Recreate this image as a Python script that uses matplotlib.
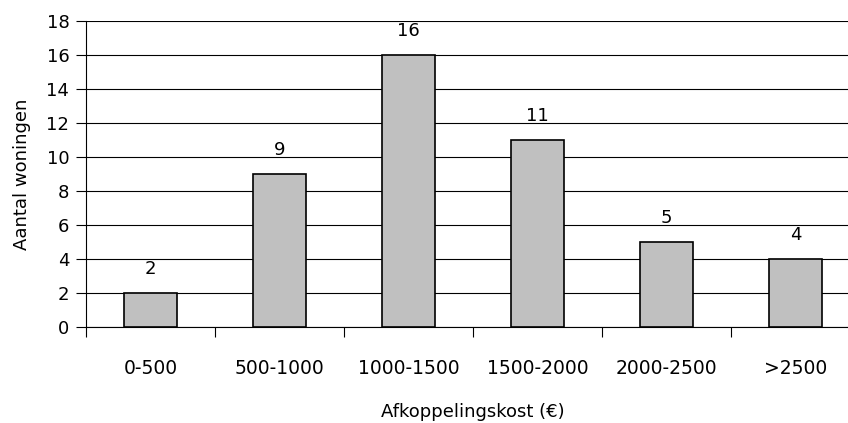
import matplotlib

matplotlib.use("Agg")
import matplotlib.pyplot as plt

categories = ["0-500", "500-1000", "1000-1500", "1500-2000", "2000-2500", ">2500"]
counts = [2, 9, 16, 11, 5, 4]
y_ticks = [0, 2, 4, 6, 8, 10, 12, 14, 16, 18]

plt.rcParams["font.family"] = ["DejaVu Sans"]

fig = plt.figure(figsize=(8.48, 4.23), dpi=100)
# plot area runs a bit past the right edge, like the cropped original
ax = fig.add_axes([86 / 848, 96 / 423, 774 / 848, 306 / 423])

x = list(range(len(categories)))
ax.bar(x, counts, width=0.41, color="#c0c0c0", edgecolor="black", linewidth=1.2, zorder=3)

for xi, c in zip(x, counts):
    ax.annotate(str(c), (xi, c), xytext=(0, 11), textcoords="offset points",
                ha="center", va="bottom", fontsize=13)

ax.set_xlim(-0.5, len(categories) - 0.5)
ax.set_ylim(0, 18)
ax.set_yticks(y_ticks)
ax.tick_params(axis="y", labelsize=13, length=7, width=0.8, direction="out", pad=5)
ax.yaxis.grid(True, color="black", linewidth=0.8, zorder=0)
ax.set_axisbelow(True)

# category labels between boundary ticks
ax.set_xticks([i - 0.5 for i in range(len(categories) + 1)])
ax.set_xticklabels([])
ax.set_xticks(x, minor=True)
ax.set_xticklabels(categories, minor=True, fontsize=13.5)
ax.tick_params(axis="x", which="major", length=7, width=0.8)
ax.tick_params(axis="x", which="minor", length=0, pad=23)

ax.set_xlabel("Afkoppelingskost (€)", fontsize=13, labelpad=18)
ax.set_ylabel("Aantal woningen", fontsize=13, labelpad=11)

ax.spines[["right", "top"]].set_visible(False)
ax.spines["left"].set_linewidth(0.8)
ax.spines["bottom"].set_linewidth(0.8)

fig.savefig("out.png", dpi=100)
plt.close(fig)
